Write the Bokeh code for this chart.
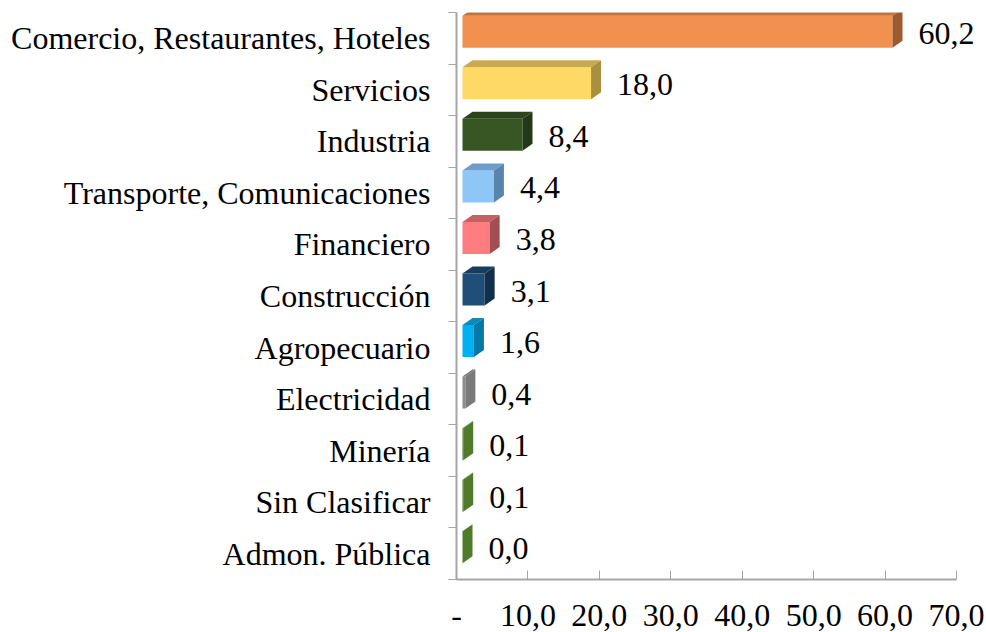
from bokeh.plotting import figure
from bokeh.models import Range1d, FixedTicker, ColumnDataSource
from bokeh.embed import file_html
from bokeh.resources import INLINE
from bokeh.core.properties import value

# ---------------- data ----------------
categories = [
    "Comercio, Restaurantes, Hoteles",
    "Servicios",
    "Industria",
    "Transporte, Comunicaciones",
    "Financiero",
    "Construcción",
    "Agropecuario",
    "Electricidad",
    "Minería",
    "Sin Clasificar",
    "Admon. Pública",
]
values = [60.2, 18.0, 8.4, 4.4, 3.8, 3.1, 1.6, 0.4, 0.1, 0.1, 0.0]
x_ticks = [0, 10, 20, 30, 40, 50, 60, 70]
x_tick_labels = ["-", "10,0", "20,0", "30,0", "40,0", "50,0", "60,0", "70,0"]

# ---------------- styles ----------------
front_colors = ["#F2914F", "#FFD966", "#375623", "#8EC6F8", "#FF7C80", "#1F4E79",
                "#00B0F0", "#8C8C8C", "#4F7A28", "#4F7A28", "#4F7A28"]
top_colors = ["#C27440", "#C9AB4E", "#2B441B", "#6C9DCB", "#C55F63", "#173C5E",
              "#0A8BBF", "#757575", "#42682A", "#42682A", "#42682A"]
side_colors = ["#9E5A2F", "#A8903F", "#233816", "#5A85AB", "#A24E52", "#12304B",
               "#0379A5", "#7A7A7A", "#4F7B2B", "#4F7B2B", "#4F7B2B"]

FONT = "Liberation Serif"
FSIZE = "32px"
AXIS_COLOR = "#A6A6A6"

W, H = 986, 632
ML, MR, MT, MB = 456, 6, 12, 53
XMAX = 70
AXIS_PX = 500                      # pixels spanned by 0..70
n = len(categories)
fw = W - ML - MR
fh = H - MT - MB
ux = XMAX / AXIS_PX                # data units per pixel (x)
uy = n / fh                        # data units per pixel (y)
XEND = fw * ux

X0 = 6 * ux             # front face start offset from wall
DX = 10 * ux            # depth offset x
DY = 7 * uy             # depth offset y
HALF = 16 * uy          # half height of front face
LIFT = 6.5 * uy         # bars sit slightly above slot centre

centers = [n - 1 - i + 0.5 for i in range(n)]
fy = [c + LIFT for c in centers]
left = [X0] * n
right = [X0 + v for v in values]
bot = [y - HALF for y in fy]
top = [y + HALF for y in fy]

top_xs = [[l, r, r + DX, l + DX] for l, r in zip(left, right)]
top_ys = [[t, t, t + DY, t + DY] for t in top]
side_xs = [[r, r, r + DX, r + DX] for r in right]
side_ys = [[b, t, t + DY, b + DY] for b, t in zip(bot, top)]

p = figure(width=W, height=H, output_backend="svg", toolbar_location=None,
           x_range=Range1d(0, XEND), y_range=Range1d(0, n),
           min_border_left=ML, min_border_right=MR, min_border_top=MT,
           min_border_bottom=MB)
p.outline_line_color = None
p.xgrid.visible = False
p.ygrid.visible = False
p.background_fill_color = "white"
p.border_fill_color = "white"

p.hbar(y=fy, left=left, right=right, height=2 * HALF, fill_color=front_colors,
       line_color=None)
p.patches(xs=top_xs, ys=top_ys, fill_color=top_colors, line_color=None)
p.patches(xs=side_xs, ys=side_ys, fill_color=side_colors, line_color=None)

labels = [f"{v:.1f}".replace(".", ",") for v in values]
src = ColumnDataSource(dict(x=right, y=centers, t=labels))
p.text(x="x", y="y", text="t", source=src, x_offset=26, y_offset=-5,
       text_align="left", text_baseline="middle",
       text_font=value(FONT), text_font_size=FSIZE, text_color="black")

# x axis
xa = p.xaxis[0]
xa.bounds = (0, XMAX)
xa.ticker = FixedTicker(ticks=x_ticks)
xa.major_label_overrides = {t: l for t, l in zip(x_ticks, x_tick_labels)}
xa.minor_tick_line_color = None
xa.major_tick_in = 9
xa.major_tick_out = 0
xa.major_tick_line_color = AXIS_COLOR
xa.axis_line_color = AXIS_COLOR
xa.axis_line_width = 2
xa.major_label_standoff = 25
xa.major_label_text_font = FONT
xa.major_label_text_font_size = FSIZE
xa.major_label_text_color = "black"

# y axis
ya = p.yaxis[0]
ya.ticker = FixedTicker(ticks=centers, minor_ticks=list(range(n + 1)))
ya.major_label_overrides = {c: name for c, name in zip(centers, categories)}
ya.major_tick_in = 0
ya.major_tick_out = 0
ya.minor_tick_in = 0
ya.minor_tick_out = 8
ya.minor_tick_line_color = AXIS_COLOR
ya.axis_line_color = AXIS_COLOR
ya.axis_line_width = 2
ya.major_label_standoff = 18
ya.major_label_text_font = FONT
ya.major_label_text_font_size = FSIZE
ya.major_label_text_color = "black"

open("out.html", "w").write(file_html(p, INLINE))
